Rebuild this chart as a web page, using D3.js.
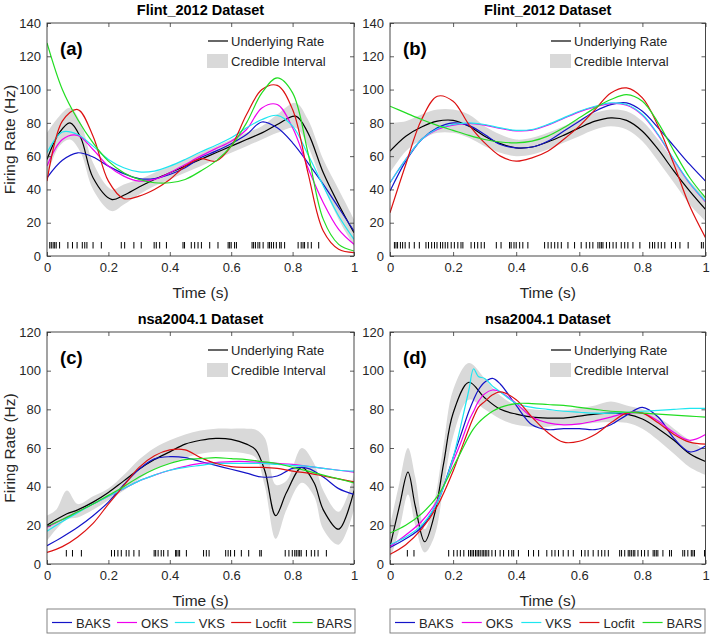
<!DOCTYPE html>
<html><head><meta charset="utf-8">
<script src="https://cdn.jsdelivr.net/npm/d3@7"></script>
<style>
body{margin:0;background:#fff}
svg{display:block}
</style>
</head><body><svg id="chart" width="710" height="635"></svg>
<script>
// ---------- shared ----------
const xTicks = [0, 0.2, 0.4, 0.6, 0.8, 1];
const yTicksFlint = [0, 20, 40, 60, 80, 100, 120, 140];
const yTicksNsa = [0, 20, 40, 60, 80, 100, 120];
const methodNames = ["BAKS", "OKS", "VKS", "Locfit", "BARS"];
const legendLabels = ["Underlying Rate", "Credible Interval"];
const titles = ["Flint_2012 Dataset", "Flint_2012 Dataset", "nsa2004.1 Dataset", "nsa2004.1 Dataset"];
const panelLetters = ["(a)", "(b)", "(c)", "(d)"];
const xLabel = "Time (s)";
const yLabel = "Firing Rate (Hz)";

const grid05 = [0,0.05,0.1,0.15,0.2,0.25,0.3,0.35,0.4,0.45,0.5,0.55,0.6,0.65,0.7,0.75,0.8,0.85,0.9,0.95,1];

// ---------- panel (a) ----------
const tARate = [0,0.04,0.075,0.11,0.15,0.21,0.25,0.3,0.35,0.4,0.45,0.5,0.55,0.6,0.65,0.7,0.75,0.81,0.85,0.9,0.95,1];
const aRate  = [58,74,80,71,47,34,36.5,41.5,46,50,54,58,62,66,70,74,79,84,74,50,31,14];
const aLower = [48,66,70,62,40,27,31,37,42,46,50,54,58,62,66,70,74,77,66,42,22,6];
const aUpper = [74,84,89,80,56,40,43,46,50,54,58,62,66,70,74,78,85,92,82,58,40,22];
const aBAKS   = [47,57.5,62,59.5,54,49.5,46.5,46.5,49,53,59,63,67.5,73,80.5,77,68,56,43,29,15];
const aOKS    = [54,70,72.5,64,54,48,45,46,50,55,60,64.5,69,76,89,91,77,53,32,16,7];
const aVKS    = [62,74.5,73,66,58,53,50.5,51,54,58,62.5,66.5,71,77,82,84.5,78,61,42,24,10];
const aLocfit = [45,81,88,72,45,34.5,36,40,46,54,58.5,57,66,85,100,102.5,88,50,15,4,2];
const aBARS   = [128,100,82,68,57,50,46,44,44,46,51,57,66,80,98,107,98,62,22,7,3];
const aSpikes = [0.009,0.014,0.02,0.025,0.03,0.041,0.068,0.083,0.098,0.115,0.123,0.13,0.15,0.177,0.242,0.253,0.283,0.307,0.349,0.356,0.367,0.389,0.443,0.448,0.47,0.481,0.492,0.503,0.53,0.557,0.59,0.595,0.6,0.611,0.617,0.668,0.673,0.679,0.687,0.693,0.704,0.72,0.725,0.731,0.738,0.747,0.758,0.763,0.774,0.818,0.828,0.834,0.839,0.85,0.861,0.885];

// ---------- panel (b) ----------
const bRate  = [63,72,77.5,81,81.5,78,72,67.5,65,65.5,68.5,72.5,77,81,83,81.5,75,64,51,39,28];
const bLower = [50,63,70,74,74,71,66,62,60,61,64,68,72,76,78,76,69,57,44,31,21];
const bUpper = [80,81,85,88,88,85,78,73,70,71,74,78,82,86,88,87,81,70,57,45,35];
const bBAKS   = [39,57,70,77,80,78.5,73,67,65,65.5,69,75,81,87,91,92,87,77,66,55,45];
const bOKS    = [44,58,70,76,78.6,79.6,78.6,76.6,75.2,75.6,78.6,82.6,86.6,89.6,91.6,90.6,84.6,72.6,57.6,43.6,32.6];
const bVKS    = [44,58,70,76.5,79,80,79,77,75.5,76,79,83,87,90,92,91,85,73,58,44,33];
const bLocfit = [26,55,82,96,93,79,68,60,57,59,63,70,78,88,98,101,95,78,55,30,11];
const bBARS   = [90,86,82,78.5,75.5,72.5,70,68.5,68,69,72,77,83,89,94,97,93,80,63,47,35];
const bSpikes = [0.014,0.019,0.024,0.033,0.04,0.048,0.061,0.077,0.093,0.114,0.122,0.132,0.141,0.149,0.16,0.167,0.175,0.183,0.194,0.204,0.215,0.225,0.231,0.257,0.268,0.278,0.289,0.299,0.337,0.352,0.379,0.384,0.393,0.4,0.411,0.421,0.437,0.49,0.501,0.511,0.522,0.532,0.543,0.564,0.585,0.606,0.622,0.633,0.643,0.659,0.665,0.67,0.675,0.686,0.696,0.707,0.717,0.733,0.744,0.754,0.77,0.792,0.823,0.832,0.839,0.85,0.86,0.871,0.892,0.905,0.919,0.945,0.987,0.993];

// ---------- panel (c) ----------
const tCRate = [0,0.03,0.065,0.1,0.15,0.2,0.25,0.3,0.35,0.4,0.45,0.5,0.55,0.6,0.65,0.68,0.71,0.745,0.78,0.83,0.87,0.9,0.95,1];
const cRate  = [20,23,26,28,32,37,43,49,54,58,62,64,65,64.5,62,59,48,25,37,50,42,28,18,38];
const cLower = [12,18,23,24,28,33,38,44,49,52,55,57,58,58,57,55,40,13,28,42,35,18,10,28];
const cUpper = [25,28,38,31,35,39,46,54,60,64,67,69,70,70,70,69.5,65,41,43,60,52,38,27,46];
const cBAKS   = [9.5,14,19,25,32,41,49,54.4,55.5,55,53,51,49,47,45,45.5,49.5,49.5,45,39,36];
const cOKS    = [19,23,27,31,35,39,43,46,48.5,50.5,52,52.5,53,53,52.5,52,51.5,50.5,49.5,48.5,47.5];
const cVKS    = [17,22,26.5,31,35,39,43,46,48.5,50,51,52,52,52,52,51.5,51,50.5,49.5,48.5,48];
const cLocfit = [6,9,14,21,31,40.5,50,56,59,59,55,52,50.4,50,50,49.5,48,47,45.5,44,42.5];
const cBARS   = [19.5,23,27,31,35.5,40,45,49,52,54,54.5,55,54.5,54,53,52,50,48,46,44,42];
const cSpikes = [0.063,0.083,0.112,0.21,0.22,0.231,0.242,0.258,0.267,0.283,0.3,0.349,0.354,0.362,0.372,0.38,0.394,0.419,0.421,0.427,0.432,0.454,0.51,0.519,0.528,0.582,0.59,0.598,0.611,0.633,0.657,0.693,0.698,0.776,0.788,0.799,0.807,0.812,0.818,0.823,0.828,0.845,0.861,0.872,0.883,0.91];

// ---------- panel (d) ----------
const tDRate = [0,0.03,0.057,0.08,0.11,0.14,0.17,0.2,0.25,0.3,0.35,0.4,0.45,0.5,0.55,0.6,0.65,0.7,0.75,0.8,0.85,0.9,0.95,1];
const dRate  = [9,30,47.5,30,11.5,25,52,78,94,86,80,77.5,76,75.5,75.5,76.5,77.5,78,77.5,75,70,64,57,53];
const dLower = [2,18,36,20,6,14,40,66,85,80,75,72,71,71,72,72,73,73.5,73,70,64,57,50,46];
const dUpper = [20,42,60,45,18,32,62,90,104,96,87,82,80,79.5,79.5,80.5,82,84,82,80,76,70,64,59];
const tDMethods = [0,0.05,0.1,0.15,0.2,0.225,0.25,0.265,0.28,0.3,0.325,0.35,0.4,0.45,0.5,0.55,0.6,0.65,0.7,0.75,0.8,0.85,0.9,0.95,1];
const dBAKS   = [8.5,13,19,32,55,67,79,85,90,94,96,93,82,72,69.5,70,70,69.5,72,77,81,76,65,58,61];
const dOKS    = [9,15,22,33,53,63,74,79,84,88,90,89,83,76,73,72,72.5,74,76,78,78,74,68,64,67];
const dVKS    = [10,14,20,32,55,72,90,101,97,96,92,89,83,81,80,79,78.5,78,78,78.5,79,79.5,80,80.5,80.5];
const dLocfit = [5,10,18,30,48,59,70,76,81,84,87.5,89,85,76,68,63,63.5,67,73,78,78,73,67,63,62];
const dBARS   = [16,20,26,35,50,58,66,70,73,76,79,81,83,83,82.5,82,81,80,79,78.5,78,77.5,77,76.5,76];
const dSpikes = [0.055,0.076,0.186,0.202,0.213,0.223,0.234,0.249,0.255,0.26,0.265,0.271,0.276,0.281,0.286,0.292,0.297,0.302,0.307,0.313,0.323,0.334,0.349,0.36,0.376,0.386,0.392,0.407,0.439,0.455,0.471,0.497,0.513,0.523,0.534,0.549,0.565,0.581,0.607,0.618,0.628,0.644,0.66,0.671,0.681,0.692,0.728,0.734,0.744,0.755,0.76,0.765,0.771,0.776,0.786,0.797,0.807,0.818,0.834,0.839,0.844,0.849,0.865,0.886,0.892,0.928,0.934,0.944,0.955,0.96,0.965,0.997];

// ---------- drawing ----------
const FONT = '"Liberation Sans", Arial, Helvetica, sans-serif';
const TXT = "#262626";
const colors = ["#1414c8", "#ee00ee", "#1ee6f0", "#dd1111", "#22dd22"];
const ciFill = "#d9d9d9";
const svg = d3.select("#chart");
const curve = d3.curveCatmullRom.alpha(0.5);

const panels = [
  {id:"a", left:47, right:354, top:23, bottom:256, yMax:140, yTicks:yTicksFlint, ylab:true,
   tRate:tARate, rate:aRate, lower:aLower, upper:aUpper, tM:grid05, methods:[aBAKS,aOKS,aVKS,aLocfit,aBARS], spikes:aSpikes},
  {id:"b", left:390, right:705.5, top:23, bottom:256, yMax:140, yTicks:yTicksFlint, ylab:false,
   tRate:grid05, rate:bRate, lower:bLower, upper:bUpper, tM:grid05, methods:[bBAKS,bOKS,bVKS,bLocfit,bBARS], spikes:bSpikes},
  {id:"c", left:47, right:354, top:332, bottom:564, yMax:120, yTicks:yTicksNsa, ylab:true,
   tRate:tCRate, rate:cRate, lower:cLower, upper:cUpper, tM:grid05, methods:[cBAKS,cOKS,cVKS,cLocfit,cBARS], spikes:cSpikes},
  {id:"d", left:390, right:705.5, top:332, bottom:564, yMax:120, yTicks:yTicksNsa, ylab:false,
   tRate:tDRate, rate:dRate, lower:dLower, upper:dUpper, tM:tDMethods, methods:[dBAKS,dOKS,dVKS,dLocfit,dBARS], spikes:dSpikes}
];

const defs = svg.append("defs");

panels.forEach((p, pi) => {
  const g = svg.append("g");
  const x = d3.scaleLinear().domain([0, 1]).range([p.left, p.right]);
  const y = d3.scaleLinear().domain([0, p.yMax]).range([p.bottom, p.top]);

  defs.append("clipPath").attr("id", "clip" + p.id).append("rect")
    .attr("x", p.left).attr("y", p.top).attr("width", p.right - p.left).attr("height", p.bottom - p.top);
  const plot = g.append("g").attr("clip-path", `url(#clip${p.id})`);

  // credible interval
  const ci = p.tRate.map((t, i) => ({t, lo: p.lower[i], hi: p.upper[i]}));
  plot.append("path").datum(ci)
    .attr("d", d3.area().x(d => x(d.t)).y0(d => y(d.lo)).y1(d => y(d.hi)).curve(curve))
    .attr("fill", ciFill);

  const line = d3.line().x(d => x(d[0])).y(d => y(d[1])).curve(curve);
  // underlying rate
  plot.append("path").datum(p.tRate.map((t, i) => [t, p.rate[i]]))
    .attr("d", line).attr("fill", "none").attr("stroke", "#000").attr("stroke-width", 1.2);
  // methods
  p.methods.forEach((vals, mi) => {
    plot.append("path").datum(p.tM.map((t, i) => [t, vals[i]]))
      .attr("d", line).attr("fill", "none").attr("stroke", colors[mi]).attr("stroke-width", 1.2);
  });
  // spikes
  plot.selectAll("line.spike").data(p.spikes).join("line").attr("class", "spike")
    .attr("x1", d => x(d)).attr("x2", d => x(d))
    .attr("y1", y(0) - 7.5).attr("y2", y(0) - 14)
    .attr("stroke", "#000").attr("stroke-width", 1);

  // axes
  const styleAxis = sel => {
    sel.attr("font-family", FONT).attr("font-size", 13).attr("color", TXT);
    sel.select(".domain").remove();
    sel.selectAll(".tick line").attr("stroke", "#333").attr("stroke-width", 0.8);
    sel.selectAll(".tick text").attr("fill", TXT);
  };
  g.append("g").attr("transform", `translate(0,${p.bottom})`)
    .call(d3.axisBottom(x).tickValues(xTicks).tickFormat(d3.format("~g")).tickSizeInner(-4).tickSizeOuter(0).tickPadding(7))
    .call(styleAxis);
  g.append("g").attr("transform", `translate(0,${p.top})`)
    .call(d3.axisTop(x).tickValues(xTicks).tickFormat("").tickSizeInner(-4).tickSizeOuter(0))
    .call(styleAxis);
  g.append("g").attr("transform", `translate(${p.left},0)`)
    .call(d3.axisLeft(y).tickValues(p.yTicks).tickSizeInner(-4).tickSizeOuter(0).tickPadding(6))
    .call(styleAxis);
  g.append("g").attr("transform", `translate(${p.right},0)`)
    .call(d3.axisRight(y).tickValues(p.yTicks).tickFormat("").tickSizeInner(-4).tickSizeOuter(0))
    .call(styleAxis);
  g.append("rect").attr("x", p.left).attr("y", p.top).attr("width", p.right - p.left).attr("height", p.bottom - p.top)
    .attr("fill", "none").attr("stroke", "#333").attr("stroke-width", 0.9);

  // title & labels
  g.append("text").attr("x", (p.left + p.right) / 2).attr("y", p.top - 8.5).attr("text-anchor", "middle")
    .attr("font-family", FONT).attr("font-size", 14.5).attr("font-weight", "bold").attr("fill", "#000").text(titles[pi]);
  g.append("text").attr("x", p.left + 13).attr("y", p.top + 32)
    .attr("font-family", FONT).attr("font-size", 18.5).attr("font-weight", "bold").attr("fill", "#000").text(panelLetters[pi]);
  g.append("text").attr("x", (p.left + p.right) / 2).attr("y", p.bottom + 42).attr("text-anchor", "middle")
    .attr("font-family", FONT).attr("font-size", 15.5).attr("fill", TXT).text(xLabel);
  if (p.ylab) {
    g.append("text").attr("transform", `translate(15,${(p.top + p.bottom) / 2}) rotate(-90)`).attr("text-anchor", "middle")
      .attr("font-family", FONT).attr("font-size", 15.5).attr("fill", TXT).text(yLabel);
  }

  // in-panel legend
  const lx = p.left + 160;
  g.append("line").attr("x1", lx + 1).attr("x2", lx + 21).attr("y1", p.top + 18).attr("y2", p.top + 18)
    .attr("stroke", "#000").attr("stroke-width", 1.2);
  g.append("text").attr("x", lx + 24).attr("y", p.top + 22.5).attr("font-family", FONT).attr("font-size", 13)
    .attr("fill", TXT).text(legendLabels[0]);
  g.append("rect").attr("x", lx).attr("y", p.top + 31).attr("width", 21).attr("height", 14).attr("fill", ciFill);
  g.append("text").attr("x", lx + 24).attr("y", p.top + 43).attr("font-family", FONT).attr("font-size", 13)
    .attr("fill", TXT).text(legendLabels[1]);
});

// bottom legends
[{left:47, right:355}, {left:390, right:705}].forEach(b => {
  const top = 609, bot = 633;
  const lg = svg.append("g");
  lg.append("rect").attr("x", b.left).attr("y", top).attr("width", b.right - b.left).attr("height", bot - top)
    .attr("fill", "#fff").attr("stroke", "#777").attr("stroke-width", 0.9);
  const texts = methodNames.map(n => lg.append("text").attr("font-family", FONT).attr("font-size", 13)
    .attr("fill", TXT).attr("y", 628).text(n));
  const widths = texts.map(t => t.node().getComputedTextLength());
  const lineLen = 20, gap1 = 4;
  const used = d3.sum(widths) + methodNames.length * (lineLen + gap1);
  const gap = (b.right - b.left - 5 - 3 - used) / (methodNames.length - 1);
  let cx = b.left + 5;
  methodNames.forEach((n, i) => {
    lg.append("line").attr("x1", cx).attr("x2", cx + lineLen).attr("y1", 622.5).attr("y2", 622.5)
      .attr("stroke", colors[i]).attr("stroke-width", 1.2);
    texts[i].attr("x", cx + lineLen + gap1);
    cx += lineLen + gap1 + widths[i] + gap;
  });
});
</script></body></html>
